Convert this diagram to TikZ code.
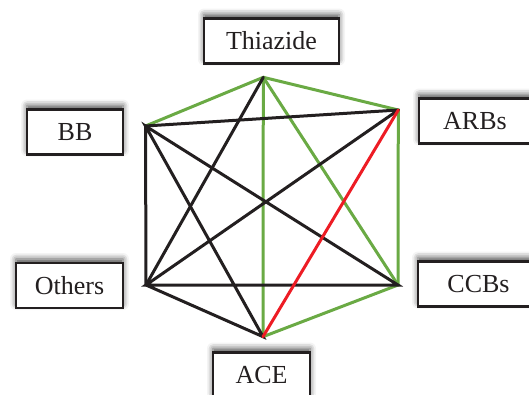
\documentclass[tikz,border=0pt]{standalone}
\usepackage{fontspec}
\setmainfont{Liberation Serif}
\usetikzlibrary{shadows.blur}
\definecolor{linkgreen}{RGB}{106,170,68}
\definecolor{linkred}{RGB}{237,28,36}
\definecolor{linkblack}{RGB}{35,31,32}
\tikzset{
  drug/.style={draw=linkblack,line width=2.2pt,fill=white,minimum height=45pt,
    font=\fontsize{26}{30}\selectfont,text=linkblack,
    blur shadow={shadow xshift=0pt,shadow yshift=4pt,shadow blur radius=6pt,shadow opacity=70}},
  link/.style={line width=3pt,line cap=round},
}
\begin{document}
\begin{tikzpicture}[x=1pt,y=-1pt]
    \useasboundingbox (0,0) rectangle (529,394);

    % Drug classes
    \node[drug,minimum width=135pt] (thiazide) at (271.5,41) {Thiazide};
    \node[drug,minimum width=112pt] (arbs) at (475,121) {ARBs};
    \node[drug,minimum width=96pt] (bb) at (75,132) {BB};
    \node[drug,minimum width=107pt] (others) at (69.5,285.5) {Others};
    \node[drug,minimum width=121pt] (ccbs) at (478.5,284) {CCBs};
    \node[drug,minimum width=97pt] (ace) at (261.5,375) {ACE};

    % Hexagon corners
    \coordinate (vThiazide) at (263.3,77.3);
    \coordinate (vArbs) at (398.3,110);
    \coordinate (vCcbs) at (398,285);
    \coordinate (vAce) at (263,336.7);
    \coordinate (vOthers) at (146,285);
    \coordinate (vBb) at (145.5,126);

    % Green links
    \draw[link,linkgreen] (vBb) -- (vThiazide) -- (vArbs) -- (vCcbs) -- (vAce);
    \draw[link,linkgreen] (vThiazide) -- (vAce);
    \draw[link,linkgreen] (vThiazide) -- (vCcbs);

    % Black links
    \draw[link,linkblack] (vThiazide) -- (vOthers);
    \draw[link,linkblack] (vBb) -- (vArbs);
    \draw[link,linkblack] (vBb) -- (vOthers) -- (vAce) -- (vBb) -- (vCcbs) -- (vOthers) -- (vArbs);

    % Red link
    \draw[link,linkred] (vArbs) -- (vAce);
\end{tikzpicture}
\end{document}
